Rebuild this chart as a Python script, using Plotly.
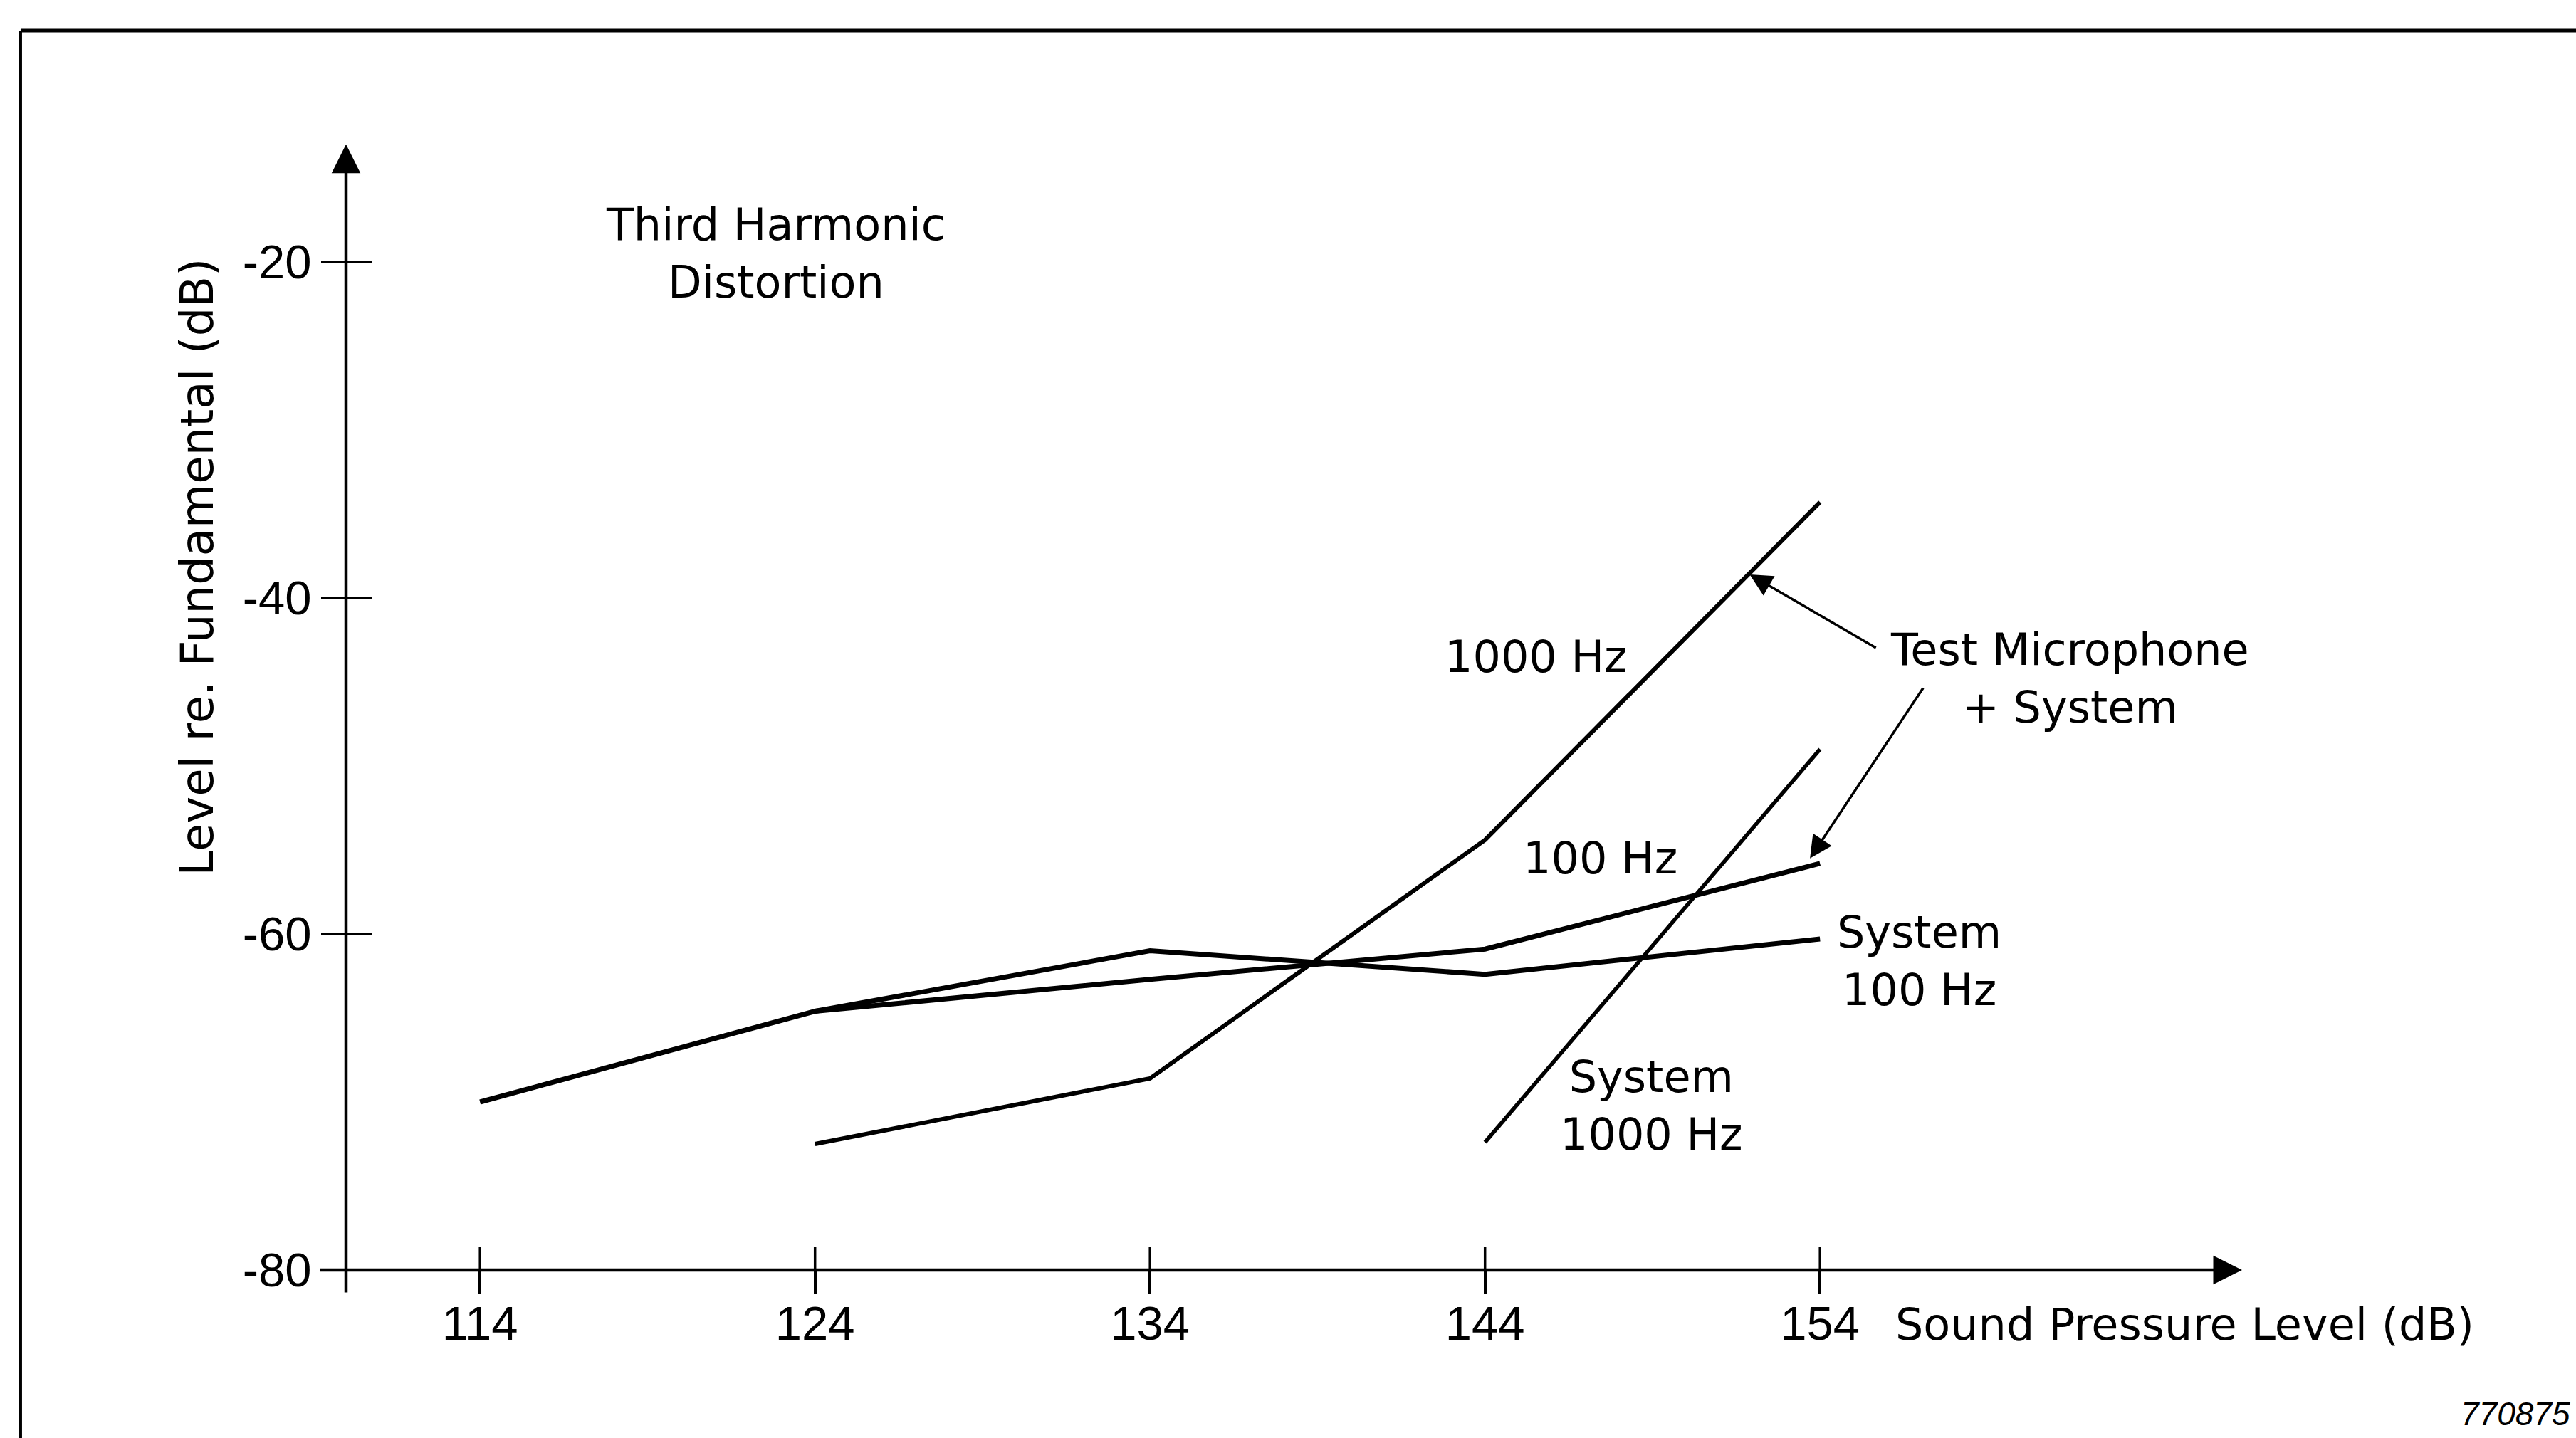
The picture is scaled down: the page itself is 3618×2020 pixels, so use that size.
import plotly.graph_objects as go

# ---- data ----
x_ticks = [114, 124, 134, 144, 154]
y_ticks = [-20, -40, -60, -80]
y_ticktext = ["-20", "-40", "-60", "-80"]

mic_1000_x = [124, 134, 144, 154]
mic_1000_y = [-72.5, -68.6, -54.4, -34.3]

mic_100_x = [114, 124, 134, 144, 154]
mic_100_y = [-70.0, -64.6, -62.7, -60.9, -55.8]

sys_100_x = [124, 134, 144, 154]
sys_100_y = [-64.6, -61.0, -62.4, -60.3]

sys_1000_x = [144, 154]
sys_1000_y = [-72.4, -49.0]

FONT_TXT = "DejaVu Sans"
FONT_NUM = "Liberation Sans"
TXT = 62

fig = go.Figure()
for xs, ys, w in [(mic_1000_x, mic_1000_y, 6), (mic_100_x, mic_100_y, 7),
                  (sys_100_x, sys_100_y, 7), (sys_1000_x, sys_1000_y, 5.5)]:
    fig.add_trace(go.Scatter(x=xs, y=ys, mode="lines",
                             line=dict(color="black", width=w),
                             showlegend=False, hoverinfo="skip"))

annotations = []
# axes as arrows
annotations.append(dict(x=166.6, y=-80, ax=109.2, ay=-80, xref="x", yref="y",
                        axref="x", ayref="y", text="", showarrow=True,
                        arrowhead=2, arrowwidth=4.5, arrowsize=1.8, arrowcolor="black", standoff=0))
annotations.append(dict(x=110, y=-13.0, ax=110, ay=-81.4, xref="x", yref="y",
                        axref="x", ayref="y", text="", showarrow=True,
                        arrowhead=2, arrowwidth=4.5, arrowsize=1.8, arrowcolor="black", standoff=0))
# pointer arrows
annotations.append(dict(x=151.9, y=-38.6, ax=155.7, ay=-43.0, xref="x", yref="y",
                        axref="x", ayref="y", text="", showarrow=True,
                        arrowhead=2, arrowwidth=3.5, arrowsize=1.8, arrowcolor="black", standoff=0))
annotations.append(dict(x=153.7, y=-55.5, ax=157.1, ay=-45.3, xref="x", yref="y",
                        axref="x", ayref="y", text="", showarrow=True,
                        arrowhead=2, arrowwidth=3.5, arrowsize=1.8, arrowcolor="black", standoff=0))

def label(text, x, y, xanchor="center", size=TXT, align="center", family=FONT_TXT, xref="x", yref="y", angle=0):
    annotations.append(dict(text=text, x=x, y=y, xref=xref, yref=yref, showarrow=False,
                            xanchor=xanchor, yanchor="middle", align=align, textangle=angle,
                            font=dict(family=family, size=size, color="black")))

label("Third Harmonic<br>Distortion", 122.82, -19.5)
label("1000 Hz", 145.53, -43.5)
label("100 Hz", 147.44, -55.5)
label("Test Microphone<br>+ System", 161.45, -44.8)
label("System<br>100 Hz", 156.96, -61.6)
label("System<br>1000 Hz", 148.96, -70.2)
label("Sound Pressure Level (dB)", 0.7701, -0.0464, xanchor="left", xref="paper", yref="paper")
label("Level re. Fundamental (dB)", -0.0740, 0.5978, size=64, angle=-90, xref="paper", yref="paper")
label("<i>770875</i>", 1.0514, -0.122, xanchor="left", size=46, family=FONT_NUM,
      xref="paper", yref="paper")

shapes = []
# inner halves of the crossing ticks
for xv in x_ticks:
    shapes.append(dict(type="line", xref="x", yref="y", x0=xv, x1=xv, y0=-80, y1=-80 + 33 / 23.6,
                       line=dict(color="black", width=3.5)))
for yv in y_ticks:
    shapes.append(dict(type="line", xref="x", yref="y", x0=110, x1=110 + 36 / 47.05, y0=yv, y1=yv,
                       line=dict(color="black", width=3.5)))
# page frame (top and left)
shapes.append(dict(type="line", xref="paper", yref="paper", x0=-0.1619, x1=1.12, y0=1.0539, y1=1.0539,
                   line=dict(color="black", width=5)))
shapes.append(dict(type="line", xref="paper", yref="paper", x0=-0.1619, x1=-0.1619, y0=1.0539, y1=-0.2,
                   line=dict(color="black", width=4)))

fig.update_layout(
    width=3618, height=2020, autosize=False,
    margin=dict(l=486, r=309, t=132, b=236, pad=0),
    paper_bgcolor="white", plot_bgcolor="white",
    annotations=annotations, shapes=shapes,
    xaxis=dict(range=[110, 170], tickvals=x_ticks, ticks="outside", ticklen=33, tickwidth=3.5,
               tickcolor="black", showline=False, showgrid=False, zeroline=False,
               ticklabelstandoff=-16,
               tickfont=dict(family=FONT_NUM, size=67, color="black")),
    yaxis=dict(range=[-80, -10], tickvals=y_ticks, ticktext=y_ticktext, ticks="outside",
               ticklen=34, tickwidth=3.5, tickcolor="black", showline=False, showgrid=False,
               zeroline=False, tickfont=dict(family=FONT_NUM, size=67, color="black")),
)

fig.write_html("out.html", config={"displayModeBar": False},
               post_script="document.body.style.margin='0';document.body.style.padding='0';")
